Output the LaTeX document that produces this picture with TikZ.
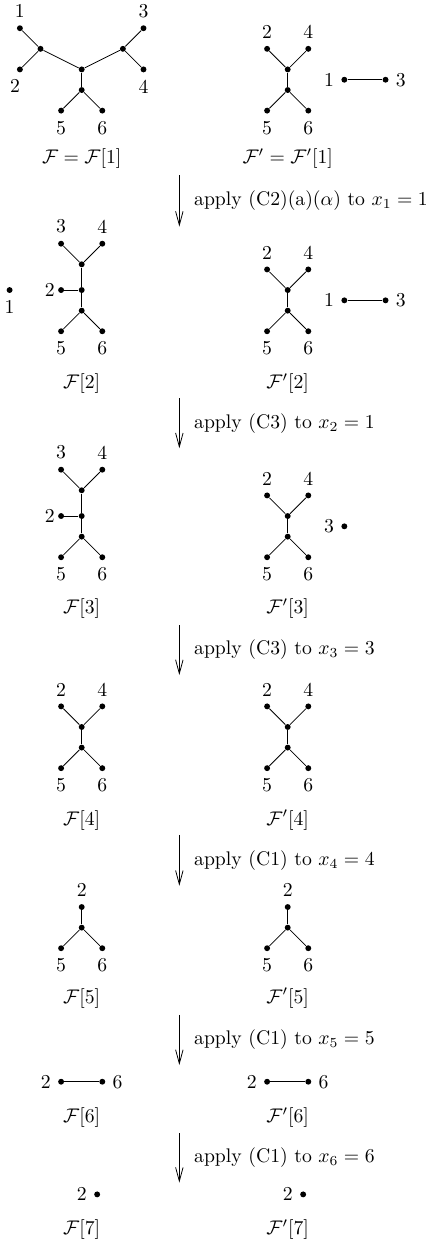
\documentclass[tikz,border=0pt]{standalone}
\usepackage{amsmath,amssymb}
\usepackage{tikz}
\usetikzlibrary{arrows.meta, positioning, calc}

\begin{document}
\begin{tikzpicture}[x=0.3675cm, y=0.3675cm,
  vert/.style={circle, fill, inner sep=0pt, minimum size=3pt},
  move/.style={-{Straight Barb[length=7pt, width=3.8pt]}},
  note/.style={right=4pt}
]
  \useasboundingbox (-3.966,0) rectangle (16.81,-60.34);

  % F[1]
  \begin{scope}[shift={(0,-3.87)}, name prefix=F1-]
    \node[vert, label=above:1] (n1) at (-3,2.5) {};
    \node[vert, label={[xshift=-2.5pt]below:2}] (n2) at (-3,0.5) {};
    \node[vert, label=above:3] (n3) at (3,2.5) {};
    \node[vert, label=below:4] (n4) at (3,0.5) {};
    \node[vert, label=below:5] (n5) at (-1,-1.5) {};
    \node[vert, label=below:6] (n6) at (1,-1.5) {};
    \node[vert] (a) at (-2,1.5) {};
    \node[vert] (b) at (2,1.5) {};
    \node[vert] (c) at (0,0.5) {};
    \node[vert] (d) at (0,-0.5) {};
    \draw (n1) -- (a) -- (n2);
    \draw (a) -- (c) -- (b);
    \draw (n3) -- (b) -- (n4);
    \draw (c) -- (d);
    \draw (n5) -- (d) -- (n6);
  \end{scope}
  % F'[1]
  \begin{scope}[shift={(10,-3.87)}, name prefix=G1-]
    \node[vert, label=above:2] (n2) at (-1,1.5) {};
    \node[vert, label=above:4] (n4) at (1,1.5) {};
    \node[vert] (u) at (0,0.5) {};
    \node[vert] (w) at (0,-0.5) {};
    \node[vert, label=below:5] (n5) at (-1,-1.5) {};
    \node[vert, label=below:6] (n6) at (1,-1.5) {};
    \node[vert, label=left:1] (n1) at (2.75,0) {};
    \node[vert, label=right:3] (n3) at (4.75,0) {};
    \draw (n2) -- (u) -- (n4);
    \draw (u) -- (w);
    \draw (n5) -- (w) -- (n6);
    \draw (n1) -- (n3);
  \end{scope}
  \node (cap1) at (0,-7.68) {$\mathcal{F}=\mathcal{F}[1]$};
  \node (capp1) at (10,-7.68) {$\mathcal{F}'=\mathcal{F}'[1]$};

  \coordinate (s1) at (4.74,-8.5);
  \coordinate (t1) at (4.74,-11.0);
  \draw[move] (s1) -- (t1) node[midway, note] {apply (C2)(a)($\alpha$) to $x_1=1$};

  % F[2]
  \begin{scope}[shift={(0,-14.58)}, name prefix=F2-]
    \node[vert, label=below:1] (n1) at (-3.5,0.5) {};
    \node[vert, label=above:3] (n3) at (-1,2.75) {};
    \node[vert, label=above:4] (n4) at (1,2.75) {};
    \node[vert] (u) at (0,1.75) {};
    \node[vert] (m) at (0,0.5) {};
    \node[vert, label={[label distance=-2pt]left:2}] (n2) at (-1,0.5) {};
    \node[vert] (w) at (0,-0.5) {};
    \node[vert, label=below:5] (n5) at (-1,-1.5) {};
    \node[vert, label=below:6] (n6) at (1,-1.5) {};
    \draw (n3) -- (u) -- (n4);
    \draw (u) -- (m) -- (w);
    \draw (n2) -- (m);
    \draw (n5) -- (w) -- (n6);
  \end{scope}
  % F'[2]
  \begin{scope}[shift={(10,-14.58)}, name prefix=G2-]
    \node[vert, label=above:2] (n2) at (-1,1.5) {};
    \node[vert, label=above:4] (n4) at (1,1.5) {};
    \node[vert] (u) at (0,0.5) {};
    \node[vert] (w) at (0,-0.5) {};
    \node[vert, label=below:5] (n5) at (-1,-1.5) {};
    \node[vert, label=below:6] (n6) at (1,-1.5) {};
    \node[vert, label=left:1] (n1) at (2.75,0) {};
    \node[vert, label=right:3] (n3) at (4.75,0) {};
    \draw (n2) -- (u) -- (n4);
    \draw (u) -- (w);
    \draw (n5) -- (w) -- (n6);
    \draw (n1) -- (n3);
  \end{scope}
  \node (cap2) at (0,-18.61) {$\mathcal{F}[2]$};
  \node (capp2) at (10,-18.61) {$\mathcal{F}'[2]$};

  \coordinate (s2) at (4.74,-19.33);
  \coordinate (t2) at (4.74,-21.76);
  \draw[move] (s2) -- (t2) node[midway, note] {apply (C3) to $x_2=1$};

  % F[3]
  \begin{scope}[shift={(0,-25.55)}, name prefix=F3-]
    \node[vert, label=above:3] (n3) at (-1,2.75) {};
    \node[vert, label=above:4] (n4) at (1,2.75) {};
    \node[vert] (u) at (0,1.75) {};
    \node[vert] (m) at (0,0.5) {};
    \node[vert, label={[label distance=-2pt]left:2}] (n2) at (-1,0.5) {};
    \node[vert] (w) at (0,-0.5) {};
    \node[vert, label=below:5] (n5) at (-1,-1.5) {};
    \node[vert, label=below:6] (n6) at (1,-1.5) {};
    \draw (n3) -- (u) -- (n4);
    \draw (u) -- (m) -- (w);
    \draw (n2) -- (m);
    \draw (n5) -- (w) -- (n6);
  \end{scope}
  % F'[3]
  \begin{scope}[shift={(10,-25.55)}, name prefix=G3-]
    \node[vert, label=above:2] (n2) at (-1,1.5) {};
    \node[vert, label=above:4] (n4) at (1,1.5) {};
    \node[vert] (u) at (0,0.5) {};
    \node[vert] (w) at (0,-0.5) {};
    \node[vert, label=below:5] (n5) at (-1,-1.5) {};
    \node[vert, label=below:6] (n6) at (1,-1.5) {};
    \node[vert, label=left:3] (n3) at (2.75,0) {};
    \draw (n2) -- (u) -- (n4);
    \draw (u) -- (w);
    \draw (n5) -- (w) -- (n6);
  \end{scope}
  \node (cap3) at (0,-29.53) {$\mathcal{F}[3]$};
  \node (capp3) at (10,-29.53) {$\mathcal{F}'[3]$};

  \coordinate (s3) at (4.74,-30.34);
  \coordinate (t3) at (4.74,-32.77);
  \draw[move] (s3) -- (t3) node[midway, note] {apply (C3) to $x_3=3$};

  % F[4]
  \begin{scope}[shift={(0,-35.79)}, name prefix=F4-]
    \node[vert, label=above:2] (n2) at (-1,1.5) {};
    \node[vert, label=above:4] (n4) at (1,1.5) {};
    \node[vert] (u) at (0,0.5) {};
    \node[vert] (w) at (0,-0.5) {};
    \node[vert, label=below:5] (n5) at (-1,-1.5) {};
    \node[vert, label=below:6] (n6) at (1,-1.5) {};
    \draw (n2) -- (u) -- (n4);
    \draw (u) -- (w);
    \draw (n5) -- (w) -- (n6);
  \end{scope}
  % F'[4]
  \begin{scope}[shift={(10,-35.79)}, name prefix=G4-]
    \node[vert, label=above:2] (n2) at (-1,1.5) {};
    \node[vert, label=above:4] (n4) at (1,1.5) {};
    \node[vert] (u) at (0,0.5) {};
    \node[vert] (w) at (0,-0.5) {};
    \node[vert, label=below:5] (n5) at (-1,-1.5) {};
    \node[vert, label=below:6] (n6) at (1,-1.5) {};
    \draw (n2) -- (u) -- (n4);
    \draw (u) -- (w);
    \draw (n5) -- (w) -- (n6);
  \end{scope}
  \node (cap4) at (0,-39.81) {$\mathcal{F}[4]$};
  \node (capp4) at (10,-39.81) {$\mathcal{F}'[4]$};

  \coordinate (s4) at (4.74,-40.53);
  \coordinate (t4) at (4.74,-43.0);
  \draw[move] (s4) -- (t4) node[midway, note] {apply (C1) to $x_4=4$};

  % F[5]
  \begin{scope}[shift={(0,-45.03)}, name prefix=F5-]
    \node[vert, label=above:2] (n2) at (0,1) {};
    \node[vert] (c) at (0,0) {};
    \node[vert, label=below:5] (n5) at (-1,-1) {};
    \node[vert, label=below:6] (n6) at (1,-1) {};
    \draw (n2) -- (c);
    \draw (n5) -- (c) -- (n6);
  \end{scope}
  % F'[5]
  \begin{scope}[shift={(10,-45.03)}, name prefix=G5-]
    \node[vert, label=above:2] (n2) at (0,1) {};
    \node[vert] (c) at (0,0) {};
    \node[vert, label=below:5] (n5) at (-1,-1) {};
    \node[vert, label=below:6] (n6) at (1,-1) {};
    \draw (n2) -- (c);
    \draw (n5) -- (c) -- (n6);
  \end{scope}
  \node (cap5) at (0,-48.45) {$\mathcal{F}[5]$};
  \node (capp5) at (10,-48.45) {$\mathcal{F}'[5]$};

  \coordinate (s5) at (4.74,-49.27);
  \coordinate (t5) at (4.74,-51.7);
  \draw[move] (s5) -- (t5) node[midway, note] {apply (C1) to $x_5=5$};

  % F[6] and F'[6]
  \node[vert, label=left:2] (F6-n2) at (-1,-52.51) {};
  \node[vert, label=right:6] (F6-n6) at (1,-52.51) {};
  \node[vert, label=left:2] (G6-n2) at (9,-52.51) {};
  \node[vert, label=right:6] (G6-n6) at (11,-52.51) {};
  \draw (F6-n2) -- (F6-n6);
  \draw (G6-n2) -- (G6-n6);
  \node (cap6) at (0,-54.24) {$\mathcal{F}[6]$};
  \node (capp6) at (10,-54.24) {$\mathcal{F}'[6]$};

  \coordinate (s6) at (4.74,-55.01);
  \coordinate (t6) at (4.74,-57.41);
  \draw[move] (s6) -- (t6) node[midway, note] {apply (C1) to $x_6=6$};

  % F[7] and F'[7]
  \node[vert, label=left:2] (F7-n2) at (0.75,-57.98) {};
  \node[vert, label=left:2] (G7-n2) at (10.75,-57.98) {};
  \node (cap7) at (0,-59.71) {$\mathcal{F}[7]$};
  \node (capp7) at (10,-59.71) {$\mathcal{F}'[7]$};
\end{tikzpicture}
\end{document}
